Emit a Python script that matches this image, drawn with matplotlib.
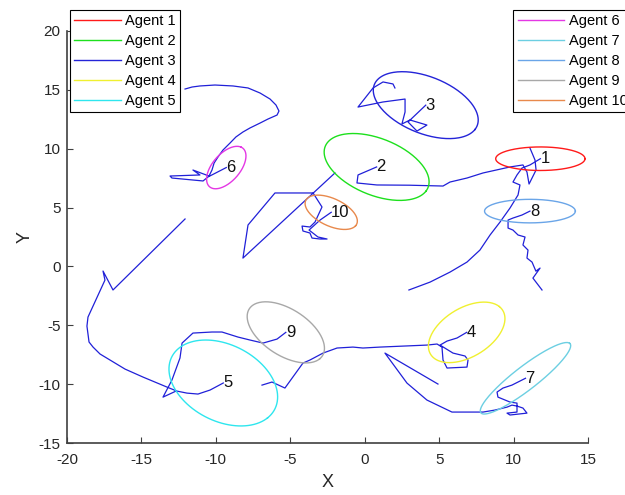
import numpy as np
import matplotlib.pyplot as plt

plt.rcParams['font.family'] = ['Liberation Sans', 'DejaVu Sans']
plt.rcParams['axes.unicode_minus'] = False

agents = ['Agent %d' % i for i in range(1, 11)]
colors = ['#ff1a1a', '#1de01d', '#2424d8', '#f0f030', '#2ee6ee',
          '#e437e4', '#6ccfe2', '#6aa5e8', '#a8a8a8', '#e8894c']

# agent trajectories, last point = current position
path1_x = [2.97, 4.39, 5.73, 6.87, 7.74, 8.42, 9.09, 9.76, 10.30, 10.43, 9.96, 10.23, 10.57, 11.10, 11.8]
path1_y = [-2.0, -1.33, -0.48, 0.37, 1.39, 2.67, 3.77, 4.96, 6.07, 6.92, 7.17, 7.77, 8.36, 8.62, 9.15]

path2_x = [11.10, 11.44, 11.51, 11.04, 10.90, 10.63, 9.76, 7.95, 6.87, 5.73, 5.26, 3.0, 0.82, -0.52, -0.45, 0.8]
path2_y = [10.06, 9.04, 8.19, 7.0, 8.02, 8.62, 8.45, 7.94, 7.51, 7.17, 6.83, 6.9, 6.92, 7.09, 7.77, 8.45]

path3_x = [2.03, 1.90, 1.23, 0.56, -0.45, 1.23, 2.71, 2.71, 2.50, 3.04, 4.18, 3.51, 2.91, 4.1]
path3_y = [15.16, 15.50, 15.67, 15.16, 13.54, 13.97, 14.22, 13.12, 12.10, 12.44, 12.01, 11.50, 12.27, 13.7]

path4_x = [-6.90, -6.23, -5.36, -4.15, -3.68, -2.80, -1.86, -0.79, -0.12, 1.03, 4.18, 4.86, 5.19,
           5.26, 5.53, 6.87, 6.94, 6.74, 5.93, 5.06, 5.53, 6.20, 6.85]
path4_y = [-10.08, -9.82, -10.33, -8.21, -7.95, -7.36, -6.93, -6.85, -6.93, -6.85, -6.68, -6.59, -6.85,
           -7.95, -8.63, -8.55, -7.95, -7.61, -7.36, -6.68, -6.34, -6.08, -5.6]

path5_x = [-12.07, -16.91, -17.58, -17.45, -18.59, -18.66, -18.52, -18.25, -17.78, -17.11, -16.10,
           -14.89, -13.28, -12.61, -11.94, -11.20, -10.39, -9.5]
path5_y = [4.03, -2.0, -0.39, -1.16, -4.30, -5.07, -6.42, -6.85, -7.44, -7.95, -8.72,
           -9.40, -10.25, -10.59, -10.76, -10.84, -10.50, -9.9]

path6_x = [-12.07, -11.60, -11.07, -10.06, -8.85, -7.84, -7.03, -6.36, -5.96, -5.76, -5.89, -6.50,
           -7.03, -7.71, -8.18, -8.65, -9.05, -9.52, -9.86, -10.12, -10.26, -10.46,
           -11.54, -11.07, -13.08, -12.95, -10.86, -10.53, -9.3]
path6_y = [15.07, 15.24, 15.33, 15.41, 15.33, 15.16, 14.73, 14.22, 13.71, 13.20, 12.86, 12.52,
           12.18, 11.76, 11.42, 11.0, 10.48, 9.89, 9.29, 8.78, 8.19, 7.68,
           8.19, 7.77, 7.68, 7.51, 7.26, 7.6, 8.4]

path7_x = [4.92, 1.36, 2.84, 4.18, 5.86, 7.95, 8.75, 9.56, 9.89, 10.23, 10.63, 10.90, 9.76, 9.56,
           10.23, 10.23, 9.76, 8.95, 8.89, 9.29, 9.89, 10.8]
path7_y = [-9.99, -7.36, -9.91, -11.35, -12.37, -12.37, -12.20, -11.95, -11.78, -11.86, -12.03, -12.46,
           -12.62, -12.46, -12.37, -11.61, -11.52, -11.10, -10.67, -10.33, -10.08, -9.5]

path8_x = [11.91, 11.30, 11.78, 11.5, 11.24, 10.90, 10.97, 10.63, 10.77, 10.30, 9.96, 9.63, 9.63,
           9.96, 10.57, 11.1]
path8_y = [-2.0, -0.99, -0.14, -0.4, 0.37, 0.71, 1.39, 1.82, 2.50, 2.67, 3.09, 3.26, 3.94,
           4.11, 4.37, 4.7]

path9_x = [-12.68, -13.55, -12.95, -12.41, -12.27, -11.54, -10.26, -9.59, -8.51, -7.71, -6.83, -5.89, -5.3]
path9_y = [-10.59, -11.10, -9.65, -7.78, -6.51, -5.66, -5.57, -5.57, -6.0, -6.25, -6.51, -6.17, -5.6]

path10_x = [-2.0, -8.18, -7.84, -6.03, -3.47, -2.87, -3.34, -3.68, -4.21, -4.15, -3.68, -3.54,
            -3.0, -2.53, -3.14, -3.74, -3.0, -2.25]
path10_y = [7.94, 0.71, 3.52, 6.24, 6.24, 5.05, 3.77, 3.35, 3.43, 3.01, 2.84, 2.41,
            2.33, 2.33, 2.50, 3.09, 3.94, 4.6]

paths = [(path1_x, path1_y), (path2_x, path2_y), (path3_x, path3_y), (path4_x, path4_y),
         (path5_x, path5_y), (path6_x, path6_y), (path7_x, path7_y), (path8_x, path8_y),
         (path9_x, path9_y), (path10_x, path10_y)]

# uncertainty ellipses around each position: semi-axes and rotation (deg)
ell_a = [3.0, 3.9, 3.9, 3.1, 4.2, 2.0, 4.2, 3.05, 3.2, 2.0]
ell_b = [1.0, 2.3, 2.3, 1.9, 3.0, 1.0, 0.9, 1.0, 1.8, 1.1]
ell_ang = [0, -32, -32, 45, -45, 60, 45, 0, -45, -35]

fig = plt.figure(figsize=(6.25, 4.95), dpi=100)
ax = fig.add_axes([0.1072, 0.105, 0.8336, 0.8324])

traj_color = '#2020d8'
for px, py in paths:
    ax.plot(px, py, color=traj_color, lw=0.9)

t = np.linspace(0, 2 * np.pi, 200)
handles = []
for i, (px, py) in enumerate(paths):
    cx, cy = px[-1], py[-1]
    th = np.deg2rad(ell_ang[i])
    ex = cx + ell_a[i] * np.cos(t) * np.cos(th) - ell_b[i] * np.sin(t) * np.sin(th)
    ey = cy + ell_a[i] * np.cos(t) * np.sin(th) + ell_b[i] * np.sin(t) * np.cos(th)
    h, = ax.plot(ex, ey, color=colors[i], lw=1.0, label=agents[i])
    handles.append(h)
    ax.text(cx, cy, str(i + 1), ha='left', va='center', fontsize=12, color='#111111')

ax.set_xlim(-20, 15)
ax.set_ylim(-15, 20)
ax.set_xticks(np.arange(-20, 16, 5))
ax.set_yticks(np.arange(-15, 21, 5))
for s in ['top', 'right']:
    ax.spines[s].set_visible(False)
for s in ['left', 'bottom']:
    ax.spines[s].set_color('#404040')
    ax.spines[s].set_linewidth(1.2)
ax.tick_params(direction='in', length=4, width=0.8, colors='#404040', labelsize=11,
               labelcolor='#262626')
ax.tick_params(axis='x', pad=7.5)
ax.tick_params(axis='y', pad=4.5)
ax.set_xlabel('X', fontsize=13, color='#262626', labelpad=5)
ax.set_ylabel('Y', fontsize=13, color='#262626', labelpad=4)

leg_kw = dict(fancybox=False, edgecolor='black', framealpha=1, fontsize=10.5,
              handlelength=3.2, handletextpad=0.3, labelspacing=0.4, borderpad=0.3,
              borderaxespad=0, bbox_transform=fig.transFigure, loc='upper left')
leg1 = ax.legend(handles=handles[:5], bbox_to_anchor=(0.112, 0.98), **leg_kw)
leg1.get_frame().set_linewidth(0.8)
ax.add_artist(leg1)
leg2 = ax.legend(handles=handles[5:], bbox_to_anchor=(0.821, 0.98), **leg_kw)
leg2.get_frame().set_linewidth(0.8)

fig.savefig('out.png', dpi=100)
